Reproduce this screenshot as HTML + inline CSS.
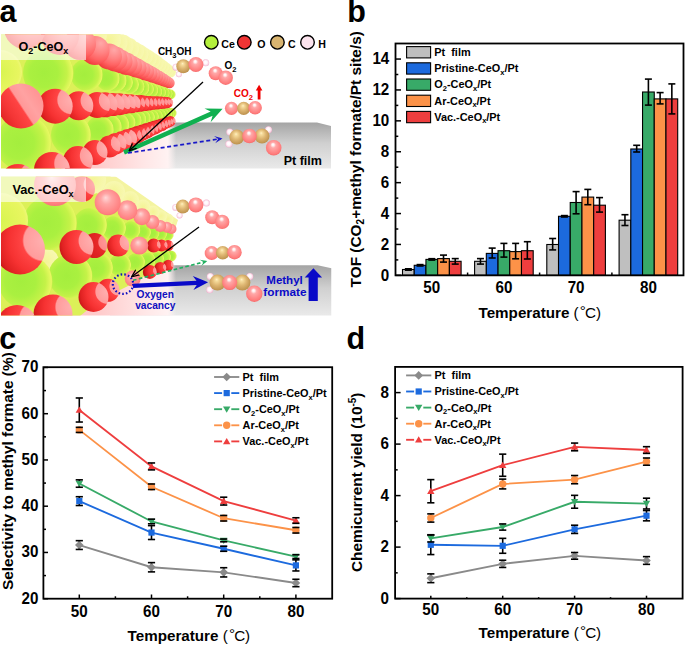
<!DOCTYPE html><html><head><meta charset="utf-8"><style>html,body{margin:0;padding:0;background:#fff;width:685px;height:645px;overflow:hidden}svg{display:block}text{font-family:"Liberation Sans",sans-serif}.sb{font-size:7.5px}.sb2{font-size:10px}</style></head><body>
<svg width="685" height="645" viewBox="0 0 685 645">
<rect width="685" height="645" fill="#fff"/>
<defs>
<radialGradient id="gR" cx="0.97" cy="0.32" r="1.15" fx="0.97" fy="0.32">
 <stop offset="0" stop-color="#ffb0b0"/><stop offset="0.34" stop-color="#ff9c9c"/><stop offset="0.37" stop-color="#ff4444"/><stop offset="0.6" stop-color="#f63232"/><stop offset="0.78" stop-color="#e02222"/><stop offset="0.9" stop-color="#c01414"/><stop offset="1" stop-color="#940808"/></radialGradient>
<linearGradient id="gR1" x1="0.1" y1="0.75" x2="0.9" y2="0.22">
 <stop offset="0" stop-color="#e42828"/><stop offset="0.2" stop-color="#f43636"/><stop offset="0.47" stop-color="#ff4444"/><stop offset="0.51" stop-color="#ff9898"/><stop offset="0.7" stop-color="#ffa2a2"/><stop offset="1" stop-color="#ff9494"/></linearGradient>
<radialGradient id="gRf" cx="1.05" cy="0.4" r="1.15" fx="1.05" fy="0.4">
 <stop offset="0" stop-color="#ffa8a8"/><stop offset="0.26" stop-color="#ff9090"/><stop offset="0.3" stop-color="#ff4040"/><stop offset="0.55" stop-color="#f23030"/><stop offset="0.75" stop-color="#d81e1e"/><stop offset="0.9" stop-color="#b41010"/><stop offset="1" stop-color="#900808"/></radialGradient>
<radialGradient id="gT" cx="0.7" cy="0.25" r="0.95" fx="0.7" fy="0.25">
 <stop offset="0" stop-color="#ffa8a8"/><stop offset="0.35" stop-color="#ff8484"/><stop offset="0.6" stop-color="#ff6464"/><stop offset="0.8" stop-color="#f44444"/><stop offset="1" stop-color="#d42626"/></radialGradient>
<radialGradient id="gRd" cx="1.0" cy="0.36" r="1.1" fx="1.0" fy="0.36">
 <stop offset="0" stop-color="#ff9a9a"/><stop offset="0.3" stop-color="#ff8888"/><stop offset="0.34" stop-color="#e82a2a"/><stop offset="0.75" stop-color="#d81e1e"/><stop offset="0.9" stop-color="#b81212"/><stop offset="1" stop-color="#8a0606"/></radialGradient>
<radialGradient id="gP" cx="0.5" cy="0.45" r="0.6" fx="0.45" fy="0.28">
 <stop offset="0" stop-color="#ffffff"/><stop offset="0.12" stop-color="#fff0f0"/><stop offset="0.3" stop-color="#ffa8a8"/><stop offset="0.8" stop-color="#ff7c7c"/><stop offset="1" stop-color="#f06464"/></radialGradient>
<radialGradient id="gPm" cx="0.5" cy="0.45" r="0.6" fx="0.42" fy="0.32">
 <stop offset="0" stop-color="#ffd8d8"/><stop offset="0.35" stop-color="#ffa4a4"/><stop offset="0.85" stop-color="#ff8080"/><stop offset="1" stop-color="#f07070"/></radialGradient>
<radialGradient id="gG" cx="0.4" cy="0.5" r="0.62" fx="0.42" fy="0.5">
 <stop offset="0" stop-color="#a4ee3e"/><stop offset="0.45" stop-color="#aaf040"/><stop offset="0.75" stop-color="#c4f248"/><stop offset="0.93" stop-color="#e6f860"/><stop offset="1" stop-color="#bfe040"/></radialGradient>
<radialGradient id="gGy" cx="0.5" cy="0.5" r="0.55">
 <stop offset="0" stop-color="#d8f450"/><stop offset="0.8" stop-color="#e8f660"/><stop offset="1" stop-color="#f2f888"/></radialGradient>
<radialGradient id="gY" cx="0.5" cy="0.5" r="0.55">
 <stop offset="0" stop-color="#f4f496"/><stop offset="1" stop-color="#f8f8b4"/></radialGradient>
<radialGradient id="gC" cx="0.45" cy="0.45" r="0.6" fx="0.45" fy="0.3">
 <stop offset="0" stop-color="#fff0c8"/><stop offset="0.15" stop-color="#f6dc9c"/><stop offset="0.5" stop-color="#deb672"/><stop offset="1" stop-color="#b88c48"/></radialGradient>
<radialGradient id="gH" cx="0.5" cy="0.5" r="0.55" fx="0.45" fy="0.4">
 <stop offset="0" stop-color="#ffffff"/><stop offset="0.45" stop-color="#fff6fa"/><stop offset="0.8" stop-color="#f8cce0"/><stop offset="1" stop-color="#eca8c4"/></radialGradient>
<linearGradient id="gSlab" x1="0" y1="0" x2="0" y2="1">
 <stop offset="0" stop-color="#a4a4a4"/><stop offset="0.45" stop-color="#d0d0d0"/><stop offset="1" stop-color="#eaeaea"/></linearGradient>
<linearGradient id="gPinkGlow" x1="0" y1="0" x2="1" y2="0">
 <stop offset="0" stop-color="#ffc4c4"/><stop offset="0.35" stop-color="#ffcccc"/><stop offset="0.72" stop-color="#ffe6e6"/><stop offset="0.93" stop-color="#fff2f2"/><stop offset="1" stop-color="#fff4f4" stop-opacity="0"/></linearGradient>
<clipPath id="cpTop"><rect x="1" y="34.6" width="330" height="134"/></clipPath>
<clipPath id="cpBot"><rect x="1" y="176.8" width="330.5" height="138.6"/></clipPath>
<marker id="ahK" markerWidth="8" markerHeight="8" refX="7" refY="4" orient="auto" markerUnits="userSpaceOnUse"><path d="M0,0.8 L7.5,4 L0,7.2" fill="none" stroke="#000" stroke-width="1.3"/></marker>
</defs>
<text x="-0.40" y="22.00" font-size="30.5" text-anchor="start" font-weight="bold" fill="#000" >a</text>
<g clip-path="url(#cpTop)">
<path d="M110,122.4 L317,122.4 L331,126 L331,169 L110,169Z" fill="url(#gSlab)"/>
<rect x="60" y="121" width="116" height="48" fill="url(#gPinkGlow)"/>
<path d="M1,34 L120,34 L168,78 L168,118 L120,146 L90,160 L60,169 L1,169Z" fill="#dcf058"/>
<path d="M75,34 L115,34 L170,70 L172,84 L100,52 Z" fill="#f4f4a0"/>
<circle cx="170.5" cy="72.0" r="5.5" fill="url(#gY)"/>
<circle cx="168.0" cy="70.2" r="6.0" fill="url(#gY)"/>
<circle cx="165.5" cy="68.5" r="6.2" fill="url(#gY)"/>
<circle cx="162.5" cy="66.8" r="6.7" fill="url(#gY)"/>
<circle cx="159.5" cy="65.0" r="7.0" fill="url(#gY)"/>
<circle cx="156.0" cy="63.0" r="7.7" fill="url(#gY)"/>
<circle cx="152.5" cy="61.0" r="8.0" fill="url(#gY)"/>
<circle cx="148.2" cy="58.8" r="8.7" fill="url(#gY)"/>
<circle cx="144.0" cy="56.5" r="9.0" fill="url(#gY)"/>
<circle cx="139.0" cy="54.0" r="9.7" fill="url(#gY)"/>
<circle cx="134.0" cy="51.5" r="10.0" fill="url(#gY)"/>
<circle cx="128.0" cy="48.8" r="11.0" fill="url(#gY)"/>
<circle cx="122.0" cy="46.0" r="11.5" fill="url(#gY)"/>
<circle cx="115.0" cy="43.0" r="12.5" fill="url(#gY)"/>
<circle cx="108.0" cy="40.0" r="13.0" fill="url(#gY)"/>
<circle cx="92.0" cy="34.0" r="15.0" fill="url(#gY)"/>
<circle cx="60.0" cy="22.0" r="22.0" fill="url(#gY)"/>
<circle cx="170.5" cy="94.5" r="5.0" fill="url(#gG)"/>
<circle cx="171.5" cy="113.0" r="5.0" fill="url(#gG)"/>
<circle cx="167.3" cy="93.8" r="5.4" fill="url(#gG)"/>
<circle cx="169.2" cy="113.5" r="5.4" fill="url(#gG)"/>
<circle cx="164.2" cy="93.0" r="5.5" fill="url(#gG)"/>
<circle cx="166.8" cy="114.0" r="5.5" fill="url(#gG)"/>
<circle cx="160.2" cy="92.3" r="5.9" fill="url(#gG)"/>
<circle cx="163.6" cy="114.7" r="5.9" fill="url(#gG)"/>
<circle cx="156.3" cy="91.7" r="6.0" fill="url(#gG)"/>
<circle cx="160.3" cy="115.4" r="6.0" fill="url(#gG)"/>
<circle cx="156.4" cy="116.1" r="6.4" fill="url(#gG)"/>
<circle cx="152.4" cy="116.7" r="6.5" fill="url(#gG)"/>
<circle cx="151.7" cy="90.3" r="6.6" fill="url(#gG)"/>
<circle cx="147.0" cy="89.0" r="7.0" fill="url(#gG)"/>
<circle cx="147.8" cy="117.3" r="7.1" fill="url(#gG)"/>
<circle cx="143.2" cy="118.0" r="7.5" fill="url(#gG)"/>
<circle cx="141.8" cy="87.8" r="7.7" fill="url(#gG)"/>
<circle cx="136.6" cy="86.5" r="8.0" fill="url(#gG)"/>
<circle cx="137.9" cy="119.3" r="8.4" fill="url(#gG)"/>
<circle cx="130.1" cy="84.5" r="8.9" fill="url(#gG)"/>
<circle cx="132.7" cy="120.6" r="9.0" fill="url(#gG)"/>
<circle cx="123.5" cy="82.5" r="9.5" fill="url(#gG)"/>
<circle cx="125.4" cy="122.6" r="10.2" fill="url(#gG)"/>
<circle cx="115.6" cy="80.5" r="11.0" fill="url(#gG)"/>
<circle cx="118.2" cy="124.6" r="11.0" fill="url(#gG)"/>
<circle cx="107.7" cy="78.6" r="12.0" fill="url(#gG)"/>
<circle cx="109.0" cy="127.3" r="12.8" fill="url(#gG)"/>
<circle cx="99.8" cy="130.0" r="14.0" fill="url(#gG)"/>
<circle cx="86.7" cy="74.7" r="16.0" fill="url(#gG)"/>
<circle cx="71.0" cy="135.0" r="20.0" fill="url(#gG)"/>
<circle cx="0.0" cy="72.0" r="22.0" fill="url(#gGy)"/>
<circle cx="48.3" cy="73.0" r="25.3" fill="url(#gG)"/>
<circle cx="23.6" cy="143.0" r="28.0" fill="url(#gG)"/>
<circle cx="169.5" cy="83.0" r="5.2" fill="url(#gT)"/>
<circle cx="170.5" cy="121.3" r="5.2" fill="url(#gRf)"/>
<circle cx="167.5" cy="102.6" r="5.6" fill="url(#gRf)"/>
<circle cx="167.8" cy="82.1" r="5.6" fill="url(#gT)"/>
<circle cx="167.8" cy="122.4" r="5.6" fill="url(#gRf)"/>
<circle cx="166.0" cy="81.2" r="5.8" fill="url(#gT)"/>
<circle cx="165.0" cy="123.5" r="5.8" fill="url(#gRf)"/>
<circle cx="164.5" cy="102.7" r="6.0" fill="url(#gRf)"/>
<circle cx="161.5" cy="102.8" r="6.2" fill="url(#gRf)"/>
<circle cx="163.8" cy="80.1" r="6.3" fill="url(#gT)"/>
<circle cx="161.8" cy="124.8" r="6.3" fill="url(#gRf)"/>
<circle cx="161.5" cy="79.0" r="6.5" fill="url(#gT)"/>
<circle cx="158.5" cy="126.0" r="6.5" fill="url(#gRf)"/>
<circle cx="157.9" cy="102.9" r="6.6" fill="url(#gRf)"/>
<circle cx="154.3" cy="103.0" r="6.8" fill="url(#gRf)"/>
<circle cx="158.8" cy="77.8" r="7.0" fill="url(#gT)"/>
<circle cx="154.8" cy="127.5" r="7.0" fill="url(#gRf)"/>
<circle cx="156.0" cy="76.5" r="7.2" fill="url(#gT)"/>
<circle cx="151.0" cy="129.0" r="7.2" fill="url(#gRf)"/>
<circle cx="150.2" cy="103.2" r="7.3" fill="url(#gRf)"/>
<circle cx="146.0" cy="103.3" r="7.6" fill="url(#gRf)"/>
<circle cx="152.8" cy="75.0" r="7.8" fill="url(#gT)"/>
<circle cx="146.8" cy="130.8" r="7.8" fill="url(#gRf)"/>
<circle cx="149.5" cy="73.5" r="8.0" fill="url(#gT)"/>
<circle cx="142.5" cy="132.5" r="8.0" fill="url(#gRf)"/>
<circle cx="141.3" cy="103.4" r="8.3" fill="url(#gRf)"/>
<circle cx="145.5" cy="71.8" r="8.7" fill="url(#gT)"/>
<circle cx="137.8" cy="134.5" r="8.7" fill="url(#gRf)"/>
<circle cx="136.6" cy="103.6" r="8.7" fill="url(#gRf)"/>
<circle cx="141.5" cy="70.0" r="9.0" fill="url(#gT)"/>
<circle cx="133.0" cy="136.5" r="9.0" fill="url(#gRf)"/>
<circle cx="131.3" cy="103.8" r="9.5" fill="url(#gR)"/>
<circle cx="127.5" cy="138.8" r="9.7" fill="url(#gR)"/>
<circle cx="136.8" cy="68.0" r="9.8" fill="url(#gT)"/>
<circle cx="126.0" cy="104.0" r="10.0" fill="url(#gR)"/>
<circle cx="122.0" cy="141.0" r="10.0" fill="url(#gR)"/>
<circle cx="132.0" cy="66.0" r="10.2" fill="url(#gT)"/>
<circle cx="115.8" cy="143.8" r="10.7" fill="url(#gR)"/>
<circle cx="119.5" cy="104.2" r="11.0" fill="url(#gR)"/>
<circle cx="109.5" cy="146.5" r="11.0" fill="url(#gR)"/>
<circle cx="126.5" cy="63.8" r="11.1" fill="url(#gT)"/>
<circle cx="121.0" cy="61.5" r="11.5" fill="url(#gT)"/>
<circle cx="113.0" cy="104.5" r="11.5" fill="url(#gR)"/>
<circle cx="115.0" cy="59.0" r="12.5" fill="url(#gT)"/>
<circle cx="105.1" cy="104.8" r="12.5" fill="url(#gR)"/>
<circle cx="95.0" cy="152.5" r="12.5" fill="url(#gR)"/>
<circle cx="109.0" cy="56.5" r="13.0" fill="url(#gT)"/>
<circle cx="97.2" cy="105.0" r="13.0" fill="url(#gR)"/>
<circle cx="95.0" cy="50.5" r="14.5" fill="url(#gT)"/>
<circle cx="78.8" cy="105.8" r="14.5" fill="url(#gR)"/>
<circle cx="78.0" cy="161.0" r="15.0" fill="url(#gR)"/>
<circle cx="80.0" cy="44.0" r="16.0" fill="url(#gT)"/>
<circle cx="55.2" cy="106.2" r="17.5" fill="url(#gR)"/>
<circle cx="18.0" cy="182.0" r="18.0" fill="url(#gR)"/>
<circle cx="52.0" cy="170.0" r="18.0" fill="url(#gR)"/>
<circle cx="60.0" cy="36.0" r="19.0" fill="url(#gT)"/>
<circle cx="25.0" cy="28.0" r="21.0" fill="url(#gT)"/>
<circle cx="21.0" cy="106.0" r="22.5" fill="url(#gR1)"/>
</g>
<rect x="1" y="34.6" width="85" height="25.4" fill="#fff" fill-opacity="0.6"/>
<text x="18.4" y="51.4" font-size="12.6" font-weight="bold">O<tspan font-size="9" dy="3">2</tspan><tspan dy="-3">-CeO</tspan><tspan font-size="9" dy="3">x</tspan></text>
<g clip-path="url(#cpBot)">
<path d="M110,265.2 L317.6,265.2 L331.5,268.3 L331.5,316 L110,316Z" fill="url(#gSlab)"/>
<rect x="60" y="264" width="116" height="52" fill="url(#gPinkGlow)"/>
<path d="M1,176 L110,176 L168,220 L168,262 L130,285 L100,300 L80,316 L1,316Z" fill="#dcf058"/>
<path d="M80,176 L115,176 L178,220 L174,232 L100,196 Z" fill="#f4f4a0"/>
<circle cx="168.0" cy="219.0" r="5.5" fill="url(#gY)"/>
<circle cx="161.0" cy="216.0" r="6.0" fill="url(#gY)"/>
<circle cx="153.0" cy="212.0" r="6.5" fill="url(#gY)"/>
<circle cx="143.0" cy="207.0" r="7.5" fill="url(#gY)"/>
<circle cx="130.0" cy="200.0" r="9.0" fill="url(#gY)"/>
<circle cx="114.0" cy="192.0" r="11.0" fill="url(#gY)"/>
<circle cx="45.0" cy="262.0" r="14.0" fill="url(#gY)"/>
<circle cx="92.0" cy="180.0" r="14.0" fill="url(#gY)"/>
<circle cx="168.0" cy="235.0" r="5.5" fill="url(#gG)"/>
<circle cx="171.0" cy="256.0" r="5.5" fill="url(#gG)"/>
<circle cx="161.0" cy="234.0" r="6.0" fill="url(#gG)"/>
<circle cx="165.0" cy="257.0" r="6.0" fill="url(#gG)"/>
<circle cx="153.0" cy="233.0" r="6.5" fill="url(#gG)"/>
<circle cx="157.5" cy="258.5" r="6.5" fill="url(#gG)"/>
<circle cx="143.5" cy="232.0" r="7.5" fill="url(#gG)"/>
<circle cx="148.0" cy="260.0" r="7.5" fill="url(#gG)"/>
<circle cx="131.4" cy="230.0" r="9.0" fill="url(#gG)"/>
<circle cx="136.0" cy="262.0" r="9.0" fill="url(#gG)"/>
<circle cx="120.0" cy="265.0" r="11.0" fill="url(#gG)"/>
<circle cx="114.0" cy="228.0" r="12.0" fill="url(#gG)"/>
<circle cx="98.0" cy="268.0" r="15.0" fill="url(#gG)"/>
<circle cx="90.0" cy="225.0" r="17.0" fill="url(#gG)"/>
<circle cx="70.4" cy="276.0" r="22.0" fill="url(#gG)"/>
<circle cx="50.0" cy="223.0" r="27.0" fill="url(#gG)"/>
<circle cx="25.5" cy="281.6" r="27.0" fill="url(#gG)"/>
<circle cx="0.0" cy="221.0" r="28.0" fill="url(#gGy)"/>
<circle cx="171.5" cy="229.0" r="5.0" fill="url(#gPm)"/>
<circle cx="166.8" cy="227.2" r="5.5" fill="url(#gPm)"/>
<circle cx="168.2" cy="245.6" r="5.5" fill="url(#gRf)"/>
<circle cx="168.2" cy="265.3" r="5.5" fill="url(#gRf)"/>
<circle cx="160.3" cy="226.0" r="6.0" fill="url(#gPm)"/>
<circle cx="161.6" cy="245.6" r="6.0" fill="url(#gRf)"/>
<circle cx="160.3" cy="268.0" r="6.0" fill="url(#gRf)"/>
<circle cx="152.4" cy="222.0" r="7.0" fill="url(#gPm)"/>
<circle cx="153.7" cy="245.6" r="7.0" fill="url(#gRf)"/>
<circle cx="149.8" cy="271.9" r="7.0" fill="url(#gRf)"/>
<circle cx="132.7" cy="278.5" r="8.0" fill="url(#gPm)"/>
<circle cx="141.9" cy="216.7" r="8.5" fill="url(#gPm)"/>
<circle cx="139.3" cy="245.6" r="9.0" fill="url(#gPm)"/>
<circle cx="127.4" cy="210.2" r="10.0" fill="url(#gPm)"/>
<circle cx="118.2" cy="245.6" r="11.0" fill="url(#gR)"/>
<circle cx="108.0" cy="290.3" r="11.5" fill="url(#gR)"/>
<circle cx="94.6" cy="245.6" r="12.5" fill="url(#gRd)"/>
<circle cx="82.0" cy="189.0" r="13.0" fill="url(#gR)"/>
<circle cx="107.7" cy="202.3" r="13.0" fill="url(#gPm)"/>
<circle cx="93.5" cy="297.0" r="15.0" fill="url(#gR)"/>
<circle cx="76.5" cy="247.0" r="17.0" fill="url(#gR)"/>
<circle cx="53.0" cy="314.0" r="19.5" fill="url(#gR)"/>
<circle cx="17.0" cy="325.0" r="20.0" fill="url(#gR)"/>
<circle cx="55.0" cy="185.0" r="21.0" fill="url(#gPm)"/>
<circle cx="20.0" cy="249.5" r="25.0" fill="url(#gR)"/>
</g>
<rect x="1" y="176.8" width="85" height="25.2" fill="#fff" fill-opacity="0.6"/>
<text x="12.4" y="194" font-size="12.8" font-weight="bold">Vac.-CeO<tspan font-size="9" dy="3">x</tspan></text>
<circle cx="211.3" cy="42.3" r="6.8" fill="#b4f03c" stroke="#000" stroke-width="1.4"/>
<text x="221.30" y="47.70" font-size="10.6" text-anchor="start" font-weight="bold" fill="#000" >Ce</text>
<circle cx="244.3" cy="42.3" r="6.8" fill="#f03434" stroke="#000" stroke-width="1.4"/>
<text x="257.20" y="47.70" font-size="10.6" text-anchor="start" font-weight="bold" fill="#000" >O</text>
<circle cx="277.4" cy="42.3" r="6.8" fill="#d8b470" stroke="#000" stroke-width="1.4"/>
<text x="288.10" y="47.70" font-size="10.6" text-anchor="start" font-weight="bold" fill="#000" >C</text>
<circle cx="307.5" cy="42.3" r="6.8" fill="#fce4ee" stroke="#000" stroke-width="1.4"/>
<text x="318.30" y="47.70" font-size="10.6" text-anchor="start" font-weight="bold" fill="#000" >H</text>
<text x="157.9" y="55" font-size="10" font-weight="bold">CH<tspan font-size="7.5" dy="2.5">3</tspan><tspan dy="-2.5">OH</tspan></text>
<circle cx="176.0" cy="67.2" r="3.5" fill="url(#gH)"/>
<circle cx="178.9" cy="74.2" r="3.0" fill="url(#gH)"/>
<circle cx="183.3" cy="66.3" r="7.0" fill="url(#gC)"/>
<circle cx="205.7" cy="62.8" r="3.5" fill="url(#gH)"/>
<circle cx="195.9" cy="64.5" r="7.5" fill="url(#gP)"/>
<text x="224.5" y="69" font-size="10" font-weight="bold">O<tspan font-size="7.5" dy="2.5">2</tspan></text>
<circle cx="215.7" cy="73.3" r="7.0" fill="url(#gP)"/>
<circle cx="225.7" cy="77.7" r="7.2" fill="url(#gP)"/>
<text x="233.7" y="97" font-size="10" font-weight="bold" fill="#f00000">CO<tspan font-size="7.5" dy="2.5">2</tspan></text>
<path d="M257.7,99.6 L257.7,90.4 L255.8,90.4 L259.1,84.7 L262.4,90.4 L260.5,90.4 L260.5,99.6Z" fill="#f00000"/>
<circle cx="231.5" cy="108.3" r="6.6" fill="url(#gP)"/>
<circle cx="243.7" cy="108.3" r="6.6" fill="url(#gC)"/>
<circle cx="255.1" cy="107.7" r="6.8" fill="url(#gP)"/>
<circle cx="229.8" cy="132.1" r="3.5" fill="url(#gH)"/>
<circle cx="228.9" cy="144.0" r="3.5" fill="url(#gH)"/>
<circle cx="268.5" cy="129.7" r="3.5" fill="url(#gH)"/>
<circle cx="236.8" cy="137.0" r="7.5" fill="url(#gC)"/>
<circle cx="262.0" cy="136.0" r="7.5" fill="url(#gC)"/>
<circle cx="249.5" cy="136.0" r="7.3" fill="url(#gP)"/>
<circle cx="273.7" cy="147.8" r="7.8" fill="url(#gP)"/>
<path d="M124.9,154.6 L212.6,115.8 L210.6,122.3 L222.6,108.8 L204.5,108.6 L210.7,111.6 L123.1,150.4Z" fill="#10b050"/>
<line x1="128.0" y1="153.0" x2="220.5" y2="138.7" stroke="#1818c8" stroke-width="1.7" stroke-dasharray="4 2.6"/>
<path d="M222.5,138.4 L215.2,143.3 L218.2,139.1 L214.0,135.9Z" fill="#1818c8"/>
<line x1="203" y1="82" x2="129.5" y2="150.5" stroke="#000" stroke-width="1.3" marker-end="url(#ahK)"/>
<text x="283.70" y="164.60" font-size="12.5" text-anchor="start" font-weight="bold" fill="#000" >Pt film</text>
<circle cx="175.8" cy="207.5" r="3.5" fill="url(#gH)"/>
<circle cx="179.6" cy="215.4" r="3.0" fill="url(#gH)"/>
<circle cx="182.8" cy="206.6" r="7.0" fill="url(#gC)"/>
<circle cx="206.4" cy="203.1" r="3.5" fill="url(#gH)"/>
<circle cx="195.9" cy="204.9" r="7.5" fill="url(#gP)"/>
<circle cx="212.2" cy="217.2" r="7.0" fill="url(#gP)"/>
<circle cx="222.2" cy="221.9" r="7.2" fill="url(#gP)"/>
<circle cx="211.7" cy="253.1" r="7.0" fill="url(#gP)"/>
<circle cx="222.7" cy="252.7" r="6.8" fill="url(#gC)"/>
<circle cx="234.5" cy="252.2" r="7.2" fill="url(#gP)"/>
<circle cx="210.3" cy="276.5" r="3.5" fill="url(#gH)"/>
<circle cx="209.7" cy="289.7" r="3.5" fill="url(#gH)"/>
<circle cx="249.8" cy="276.5" r="3.5" fill="url(#gH)"/>
<circle cx="217.5" cy="282.6" r="8.0" fill="url(#gC)"/>
<circle cx="242.4" cy="282.6" r="8.0" fill="url(#gC)"/>
<circle cx="229.7" cy="282.6" r="7.5" fill="url(#gP)"/>
<circle cx="254.3" cy="293.8" r="8.2" fill="url(#gP)"/>
<ellipse cx="123" cy="284.1" rx="10.2" ry="9.8" fill="none" stroke="#1010c0" stroke-width="2.2" stroke-dasharray="1.6 2.1"/>
<line x1="133.0" y1="280.3" x2="205.4" y2="261.6" stroke="#20b060" stroke-width="1.6" stroke-dasharray="3.6 2.4"/>
<path d="M207.3,261.1 L201.3,266.0 L203.6,262.1 L199.7,259.7Z" fill="#20b060"/>
<path d="M133.1,287.9 L196.7,284.9 L193.4,290.0 L208.1,282.3 L192.8,276.0 L196.5,280.7 L132.9,283.7Z" fill="#0a0ac8"/>
<line x1="199" y1="227" x2="132" y2="276.5" stroke="#000" stroke-width="1.3" marker-end="url(#ahK)"/>
<text x="136.6" y="297.6" font-size="10.2" font-weight="bold" fill="#1010c0">Oxygen</text>
<text x="135.2" y="309.4" font-size="10.2" font-weight="bold" fill="#1010c0">vacancy</text>
<text x="266.3" y="283.6" font-size="11.5" font-weight="bold" fill="#0a0ac8">Methyl</text>
<text x="263.3" y="295.5" font-size="11.8" font-weight="bold" fill="#0a0ac8">formate</text>
<path d="M308.6,301 L308.6,277.5 L304.7,277.5 L313.4,268.3 L322.1,277.5 L317.8,277.5 L317.8,301Z" fill="#0a0ac8"/>
<rect x="402.50" y="269.50" width="11.72" height="5.85" fill="#bfbfbf" stroke="#000" stroke-width="1.1"/>
<rect x="414.22" y="265.30" width="11.72" height="10.05" fill="#1c6ade" stroke="#000" stroke-width="1.1"/>
<rect x="425.94" y="259.40" width="11.72" height="15.95" fill="#38aa68" stroke="#000" stroke-width="1.1"/>
<rect x="437.66" y="258.60" width="11.72" height="16.75" fill="#fc9248" stroke="#000" stroke-width="1.1"/>
<rect x="449.38" y="261.30" width="11.72" height="14.05" fill="#ee3e3e" stroke="#000" stroke-width="1.1"/>
<rect x="474.60" y="261.30" width="11.72" height="14.05" fill="#bfbfbf" stroke="#000" stroke-width="1.1"/>
<rect x="486.32" y="253.40" width="11.72" height="21.95" fill="#1c6ade" stroke="#000" stroke-width="1.1"/>
<rect x="498.04" y="250.70" width="11.72" height="24.65" fill="#38aa68" stroke="#000" stroke-width="1.1"/>
<rect x="509.76" y="251.60" width="11.72" height="23.75" fill="#fc9248" stroke="#000" stroke-width="1.1"/>
<rect x="521.48" y="250.70" width="11.72" height="24.65" fill="#ee3e3e" stroke="#000" stroke-width="1.1"/>
<rect x="546.80" y="244.50" width="11.72" height="30.85" fill="#bfbfbf" stroke="#000" stroke-width="1.1"/>
<rect x="558.52" y="216.30" width="11.72" height="59.05" fill="#1c6ade" stroke="#000" stroke-width="1.1"/>
<rect x="570.24" y="202.50" width="11.72" height="72.85" fill="#38aa68" stroke="#000" stroke-width="1.1"/>
<rect x="581.96" y="197.10" width="11.72" height="78.25" fill="#fc9248" stroke="#000" stroke-width="1.1"/>
<rect x="593.68" y="205.20" width="11.72" height="70.15" fill="#ee3e3e" stroke="#000" stroke-width="1.1"/>
<rect x="619.10" y="220.20" width="11.72" height="55.15" fill="#bfbfbf" stroke="#000" stroke-width="1.1"/>
<rect x="630.82" y="149.00" width="11.72" height="126.35" fill="#1c6ade" stroke="#000" stroke-width="1.1"/>
<rect x="642.54" y="92.00" width="11.72" height="183.35" fill="#38aa68" stroke="#000" stroke-width="1.1"/>
<rect x="654.26" y="98.90" width="11.72" height="176.45" fill="#fc9248" stroke="#000" stroke-width="1.1"/>
<rect x="665.98" y="98.90" width="11.72" height="176.45" fill="#ee3e3e" stroke="#000" stroke-width="1.1"/>
<line x1="408.36" y1="268.80" x2="408.36" y2="270.20" stroke="#000" stroke-width="1.6" />
<line x1="404.86" y1="268.80" x2="411.86" y2="268.80" stroke="#000" stroke-width="1.6" />
<line x1="404.86" y1="270.20" x2="411.86" y2="270.20" stroke="#000" stroke-width="1.6" />
<line x1="420.08" y1="264.60" x2="420.08" y2="266.00" stroke="#000" stroke-width="1.6" />
<line x1="416.58" y1="264.60" x2="423.58" y2="264.60" stroke="#000" stroke-width="1.6" />
<line x1="416.58" y1="266.00" x2="423.58" y2="266.00" stroke="#000" stroke-width="1.6" />
<line x1="431.80" y1="258.70" x2="431.80" y2="260.10" stroke="#000" stroke-width="1.6" />
<line x1="428.30" y1="258.70" x2="435.30" y2="258.70" stroke="#000" stroke-width="1.6" />
<line x1="428.30" y1="260.10" x2="435.30" y2="260.10" stroke="#000" stroke-width="1.6" />
<line x1="443.52" y1="255.10" x2="443.52" y2="262.10" stroke="#000" stroke-width="1.6" />
<line x1="440.02" y1="255.10" x2="447.02" y2="255.10" stroke="#000" stroke-width="1.6" />
<line x1="440.02" y1="262.10" x2="447.02" y2="262.10" stroke="#000" stroke-width="1.6" />
<line x1="455.24" y1="258.60" x2="455.24" y2="264.10" stroke="#000" stroke-width="1.6" />
<line x1="451.74" y1="258.60" x2="458.74" y2="258.60" stroke="#000" stroke-width="1.6" />
<line x1="451.74" y1="264.10" x2="458.74" y2="264.10" stroke="#000" stroke-width="1.6" />
<line x1="480.46" y1="258.60" x2="480.46" y2="264.10" stroke="#000" stroke-width="1.6" />
<line x1="476.96" y1="258.60" x2="483.96" y2="258.60" stroke="#000" stroke-width="1.6" />
<line x1="476.96" y1="264.10" x2="483.96" y2="264.10" stroke="#000" stroke-width="1.6" />
<line x1="492.18" y1="248.10" x2="492.18" y2="258.00" stroke="#000" stroke-width="1.6" />
<line x1="488.68" y1="248.10" x2="495.68" y2="248.10" stroke="#000" stroke-width="1.6" />
<line x1="488.68" y1="258.00" x2="495.68" y2="258.00" stroke="#000" stroke-width="1.6" />
<line x1="503.90" y1="243.40" x2="503.90" y2="257.10" stroke="#000" stroke-width="1.6" />
<line x1="500.40" y1="243.40" x2="507.40" y2="243.40" stroke="#000" stroke-width="1.6" />
<line x1="500.40" y1="257.10" x2="507.40" y2="257.10" stroke="#000" stroke-width="1.6" />
<line x1="515.62" y1="243.40" x2="515.62" y2="258.80" stroke="#000" stroke-width="1.6" />
<line x1="512.12" y1="243.40" x2="519.12" y2="243.40" stroke="#000" stroke-width="1.6" />
<line x1="512.12" y1="258.80" x2="519.12" y2="258.80" stroke="#000" stroke-width="1.6" />
<line x1="527.34" y1="241.70" x2="527.34" y2="259.00" stroke="#000" stroke-width="1.6" />
<line x1="523.84" y1="241.70" x2="530.84" y2="241.70" stroke="#000" stroke-width="1.6" />
<line x1="523.84" y1="259.00" x2="530.84" y2="259.00" stroke="#000" stroke-width="1.6" />
<line x1="552.66" y1="238.50" x2="552.66" y2="249.90" stroke="#000" stroke-width="1.6" />
<line x1="549.16" y1="238.50" x2="556.16" y2="238.50" stroke="#000" stroke-width="1.6" />
<line x1="549.16" y1="249.90" x2="556.16" y2="249.90" stroke="#000" stroke-width="1.6" />
<line x1="564.38" y1="215.60" x2="564.38" y2="217.00" stroke="#000" stroke-width="1.6" />
<line x1="560.88" y1="215.60" x2="567.88" y2="215.60" stroke="#000" stroke-width="1.6" />
<line x1="560.88" y1="217.00" x2="567.88" y2="217.00" stroke="#000" stroke-width="1.6" />
<line x1="576.10" y1="191.60" x2="576.10" y2="213.80" stroke="#000" stroke-width="1.6" />
<line x1="572.60" y1="191.60" x2="579.60" y2="191.60" stroke="#000" stroke-width="1.6" />
<line x1="572.60" y1="213.80" x2="579.60" y2="213.80" stroke="#000" stroke-width="1.6" />
<line x1="587.82" y1="189.40" x2="587.82" y2="204.70" stroke="#000" stroke-width="1.6" />
<line x1="584.32" y1="189.40" x2="591.32" y2="189.40" stroke="#000" stroke-width="1.6" />
<line x1="584.32" y1="204.70" x2="591.32" y2="204.70" stroke="#000" stroke-width="1.6" />
<line x1="599.54" y1="197.60" x2="599.54" y2="212.10" stroke="#000" stroke-width="1.6" />
<line x1="596.04" y1="197.60" x2="603.04" y2="197.60" stroke="#000" stroke-width="1.6" />
<line x1="596.04" y1="212.10" x2="603.04" y2="212.10" stroke="#000" stroke-width="1.6" />
<line x1="624.96" y1="214.70" x2="624.96" y2="225.50" stroke="#000" stroke-width="1.6" />
<line x1="621.46" y1="214.70" x2="628.46" y2="214.70" stroke="#000" stroke-width="1.6" />
<line x1="621.46" y1="225.50" x2="628.46" y2="225.50" stroke="#000" stroke-width="1.6" />
<line x1="636.68" y1="145.30" x2="636.68" y2="152.00" stroke="#000" stroke-width="1.6" />
<line x1="633.18" y1="145.30" x2="640.18" y2="145.30" stroke="#000" stroke-width="1.6" />
<line x1="633.18" y1="152.00" x2="640.18" y2="152.00" stroke="#000" stroke-width="1.6" />
<line x1="648.40" y1="79.10" x2="648.40" y2="105.10" stroke="#000" stroke-width="1.6" />
<line x1="644.90" y1="79.10" x2="651.90" y2="79.10" stroke="#000" stroke-width="1.6" />
<line x1="644.90" y1="105.10" x2="651.90" y2="105.10" stroke="#000" stroke-width="1.6" />
<line x1="660.12" y1="92.60" x2="660.12" y2="103.90" stroke="#000" stroke-width="1.6" />
<line x1="656.62" y1="92.60" x2="663.62" y2="92.60" stroke="#000" stroke-width="1.6" />
<line x1="656.62" y1="103.90" x2="663.62" y2="103.90" stroke="#000" stroke-width="1.6" />
<line x1="671.84" y1="83.90" x2="671.84" y2="113.90" stroke="#000" stroke-width="1.6" />
<line x1="668.34" y1="83.90" x2="675.34" y2="83.90" stroke="#000" stroke-width="1.6" />
<line x1="668.34" y1="113.90" x2="675.34" y2="113.90" stroke="#000" stroke-width="1.6" />
<line x1="395.50" y1="275.35" x2="401.00" y2="275.35" stroke="#000" stroke-width="1.5" />
<line x1="395.50" y1="259.90" x2="398.30" y2="259.90" stroke="#000" stroke-width="1.5" />
<line x1="395.50" y1="244.45" x2="401.00" y2="244.45" stroke="#000" stroke-width="1.5" />
<line x1="395.50" y1="229.00" x2="398.30" y2="229.00" stroke="#000" stroke-width="1.5" />
<line x1="395.50" y1="213.55" x2="401.00" y2="213.55" stroke="#000" stroke-width="1.5" />
<line x1="395.50" y1="198.10" x2="398.30" y2="198.10" stroke="#000" stroke-width="1.5" />
<line x1="395.50" y1="182.65" x2="401.00" y2="182.65" stroke="#000" stroke-width="1.5" />
<line x1="395.50" y1="167.20" x2="398.30" y2="167.20" stroke="#000" stroke-width="1.5" />
<line x1="395.50" y1="151.75" x2="401.00" y2="151.75" stroke="#000" stroke-width="1.5" />
<line x1="395.50" y1="136.30" x2="398.30" y2="136.30" stroke="#000" stroke-width="1.5" />
<line x1="395.50" y1="120.85" x2="401.00" y2="120.85" stroke="#000" stroke-width="1.5" />
<line x1="395.50" y1="105.40" x2="398.30" y2="105.40" stroke="#000" stroke-width="1.5" />
<line x1="395.50" y1="89.95" x2="401.00" y2="89.95" stroke="#000" stroke-width="1.5" />
<line x1="395.50" y1="74.50" x2="398.30" y2="74.50" stroke="#000" stroke-width="1.5" />
<line x1="395.50" y1="59.05" x2="401.00" y2="59.05" stroke="#000" stroke-width="1.5" />
<line x1="467.60" y1="275.35" x2="467.60" y2="272.55" stroke="#000" stroke-width="1.5" />
<line x1="539.60" y1="275.35" x2="539.60" y2="272.55" stroke="#000" stroke-width="1.5" />
<line x1="611.90" y1="275.35" x2="611.90" y2="272.55" stroke="#000" stroke-width="1.5" />
<rect x="395.5" y="43.5" width="288.0" height="231.85000000000002" fill="none" stroke="#000" stroke-width="1.8"/>
<text transform="translate(389.30,280.65) scale(1,1.1)" font-size="15.2" text-anchor="end" font-weight="bold" fill="#000" >0</text>
<text transform="translate(389.30,249.75) scale(1,1.1)" font-size="15.2" text-anchor="end" font-weight="bold" fill="#000" >2</text>
<text transform="translate(389.30,218.85) scale(1,1.1)" font-size="15.2" text-anchor="end" font-weight="bold" fill="#000" >4</text>
<text transform="translate(389.30,187.95) scale(1,1.1)" font-size="15.2" text-anchor="end" font-weight="bold" fill="#000" >6</text>
<text transform="translate(389.30,157.05) scale(1,1.1)" font-size="15.2" text-anchor="end" font-weight="bold" fill="#000" >8</text>
<text transform="translate(389.30,126.15) scale(1,1.1)" font-size="15.2" text-anchor="end" font-weight="bold" fill="#000" >10</text>
<text transform="translate(389.30,95.25) scale(1,1.1)" font-size="15.2" text-anchor="end" font-weight="bold" fill="#000" >12</text>
<text transform="translate(389.30,64.35) scale(1,1.1)" font-size="15.2" text-anchor="end" font-weight="bold" fill="#000" >14</text>
<text transform="translate(431.80,292.60) scale(1,1.1)" font-size="15.2" text-anchor="middle" font-weight="bold" fill="#000" >50</text>
<text transform="translate(503.90,292.60) scale(1,1.1)" font-size="15.2" text-anchor="middle" font-weight="bold" fill="#000" >60</text>
<text transform="translate(576.10,292.60) scale(1,1.1)" font-size="15.2" text-anchor="middle" font-weight="bold" fill="#000" >70</text>
<text transform="translate(648.40,292.60) scale(1,1.1)" font-size="15.2" text-anchor="middle" font-weight="bold" fill="#000" >80</text>
<text x="478.50" y="318.00" font-size="15.2" font-weight="bold">Temperature <tspan font-weight="normal">(</tspan><tspan font-weight="normal" dx="1.2" dy="-2">°</tspan><tspan font-weight="normal" dx="-0.9" dy="2">C)</tspan></text>
<text transform="translate(360.6,287.4) rotate(-90)" font-size="15.4" font-weight="bold">TOF (CO<tspan class="sb2" dy="3">2</tspan><tspan dy="-3">+methyl formate/Pt site/s)</tspan></text>
<rect x="406.6" y="46.60" width="24.0" height="11.3" fill="#bfbfbf" stroke="#000" stroke-width="1.1"/>
<text x="434.30" y="55.90" font-size="10.9" text-anchor="start" font-weight="bold" fill="#000" >Pt&#160; film</text>
<rect x="406.6" y="62.80" width="24.0" height="11.3" fill="#1c6ade" stroke="#000" stroke-width="1.1"/>
<text x="434.30" y="72.10" font-size="10.9" text-anchor="start" font-weight="bold" fill="#000" >Pristine-CeO<tspan class="sb" dy="2.5">x</tspan><tspan dy="-2.5">/Pt</tspan></text>
<rect x="406.6" y="79.00" width="24.0" height="11.3" fill="#38aa68" stroke="#000" stroke-width="1.1"/>
<text x="434.30" y="88.30" font-size="10.9" text-anchor="start" font-weight="bold" fill="#000" >O<tspan class="sb" dy="2.5">2</tspan><tspan dy="-2.5">-CeO</tspan><tspan class="sb" dy="2.5">x</tspan><tspan dy="-2.5">/Pt</tspan></text>
<rect x="406.6" y="95.20" width="24.0" height="11.3" fill="#fc9248" stroke="#000" stroke-width="1.1"/>
<text x="434.30" y="104.50" font-size="10.9" text-anchor="start" font-weight="bold" fill="#000" >Ar-CeO<tspan class="sb" dy="2.5">x</tspan><tspan dy="-2.5">/Pt</tspan></text>
<rect x="406.6" y="111.40" width="24.0" height="11.3" fill="#ee3e3e" stroke="#000" stroke-width="1.1"/>
<text x="434.30" y="120.70" font-size="10.9" text-anchor="start" font-weight="bold" fill="#000" >Vac.-CeO<tspan class="sb" dy="2.5">x</tspan><tspan dy="-2.5">/Pt</tspan></text>
<text x="347.20" y="22.30" font-size="30.5" text-anchor="start" font-weight="bold" fill="#000" >b</text>
<line x1="79.30" y1="540.66" x2="79.30" y2="549.44" stroke="#000" stroke-width="1.6" />
<line x1="151.50" y1="562.62" x2="151.50" y2="571.88" stroke="#000" stroke-width="1.6" />
<line x1="223.70" y1="567.71" x2="223.70" y2="576.96" stroke="#000" stroke-width="1.6" />
<line x1="295.90" y1="579.28" x2="295.90" y2="586.68" stroke="#000" stroke-width="1.6" />
<line x1="79.30" y1="496.72" x2="79.30" y2="505.51" stroke="#000" stroke-width="1.6" />
<line x1="151.50" y1="525.62" x2="151.50" y2="539.50" stroke="#000" stroke-width="1.6" />
<line x1="223.70" y1="546.21" x2="223.70" y2="551.29" stroke="#000" stroke-width="1.6" />
<line x1="295.90" y1="559.85" x2="295.90" y2="570.95" stroke="#000" stroke-width="1.6" />
<line x1="79.30" y1="479.84" x2="79.30" y2="487.24" stroke="#000" stroke-width="1.6" />
<line x1="151.50" y1="519.15" x2="151.50" y2="523.78" stroke="#000" stroke-width="1.6" />
<line x1="223.70" y1="539.04" x2="223.70" y2="541.81" stroke="#000" stroke-width="1.6" />
<line x1="295.90" y1="554.76" x2="295.90" y2="558.46" stroke="#000" stroke-width="1.6" />
<line x1="79.30" y1="427.34" x2="79.30" y2="432.43" stroke="#000" stroke-width="1.6" />
<line x1="151.50" y1="484.00" x2="151.50" y2="489.55" stroke="#000" stroke-width="1.6" />
<line x1="223.70" y1="515.45" x2="223.70" y2="521.00" stroke="#000" stroke-width="1.6" />
<line x1="295.90" y1="527.48" x2="295.90" y2="533.03" stroke="#000" stroke-width="1.6" />
<line x1="79.30" y1="397.98" x2="79.30" y2="422.03" stroke="#000" stroke-width="1.6" />
<line x1="151.50" y1="462.96" x2="151.50" y2="469.89" stroke="#000" stroke-width="1.6" />
<line x1="223.70" y1="497.18" x2="223.70" y2="505.04" stroke="#000" stroke-width="1.6" />
<line x1="295.90" y1="517.76" x2="295.90" y2="523.31" stroke="#000" stroke-width="1.6" />
<path d="M79.30,545.05 L151.50,567.25 L223.70,572.34 L295.90,582.98" fill="none" stroke="#8a8a8a" stroke-width="1.85"/>
<path d="M79.30,501.11 L151.50,532.56 L223.70,548.75 L295.90,565.40" fill="none" stroke="#1c6ade" stroke-width="1.85"/>
<path d="M79.30,483.54 L151.50,521.46 L223.70,540.43 L295.90,556.61" fill="none" stroke="#38aa68" stroke-width="1.85"/>
<path d="M79.30,429.89 L151.50,486.78 L223.70,518.23 L295.90,530.25" fill="none" stroke="#fc9248" stroke-width="1.85"/>
<path d="M79.30,410.00 L151.50,466.43 L223.70,501.11 L295.90,520.54" fill="none" stroke="#ee3e3e" stroke-width="1.85"/>
<path d="M79.30,540.75 L83.60,545.05 L79.30,549.35 L75.00,545.05Z" fill="#8a8a8a"/>
<path d="M151.50,562.95 L155.80,567.25 L151.50,571.55 L147.20,567.25Z" fill="#8a8a8a"/>
<path d="M223.70,568.04 L228.00,572.34 L223.70,576.64 L219.40,572.34Z" fill="#8a8a8a"/>
<path d="M295.90,578.67 L300.20,582.98 L295.90,587.28 L291.60,582.98Z" fill="#8a8a8a"/>
<rect x="76.20" y="498.01" width="6.2" height="6.2" fill="#1c6ade"/>
<rect x="148.40" y="529.46" width="6.2" height="6.2" fill="#1c6ade"/>
<rect x="220.60" y="545.65" width="6.2" height="6.2" fill="#1c6ade"/>
<rect x="292.80" y="562.30" width="6.2" height="6.2" fill="#1c6ade"/>
<path d="M75.60,480.76 L83.00,480.76 L79.30,487.05Z" fill="#38aa68"/>
<path d="M147.80,518.69 L155.20,518.69 L151.50,524.98Z" fill="#38aa68"/>
<path d="M220.00,537.65 L227.40,537.65 L223.70,543.94Z" fill="#38aa68"/>
<path d="M292.20,553.84 L299.60,553.84 L295.90,560.13Z" fill="#38aa68"/>
<circle cx="79.30" cy="429.89" r="3.70" fill="#fc9248"/>
<circle cx="151.50" cy="486.78" r="3.70" fill="#fc9248"/>
<circle cx="223.70" cy="518.23" r="3.70" fill="#fc9248"/>
<circle cx="295.90" cy="530.25" r="3.70" fill="#fc9248"/>
<path d="M75.60,412.78 L83.00,412.78 L79.30,406.49Z" fill="#ee3e3e"/>
<path d="M147.80,469.20 L155.20,469.20 L151.50,462.91Z" fill="#ee3e3e"/>
<path d="M220.00,503.89 L227.40,503.89 L223.70,497.60Z" fill="#ee3e3e"/>
<path d="M292.20,523.31 L299.60,523.31 L295.90,517.02Z" fill="#ee3e3e"/>
<line x1="75.70" y1="540.66" x2="82.90" y2="540.66" stroke="#000" stroke-width="1.6" />
<line x1="75.70" y1="549.44" x2="82.90" y2="549.44" stroke="#000" stroke-width="1.6" />
<line x1="147.90" y1="562.62" x2="155.10" y2="562.62" stroke="#000" stroke-width="1.6" />
<line x1="147.90" y1="571.88" x2="155.10" y2="571.88" stroke="#000" stroke-width="1.6" />
<line x1="220.10" y1="567.71" x2="227.30" y2="567.71" stroke="#000" stroke-width="1.6" />
<line x1="220.10" y1="576.96" x2="227.30" y2="576.96" stroke="#000" stroke-width="1.6" />
<line x1="292.30" y1="579.28" x2="299.50" y2="579.28" stroke="#000" stroke-width="1.6" />
<line x1="292.30" y1="586.68" x2="299.50" y2="586.68" stroke="#000" stroke-width="1.6" />
<line x1="75.70" y1="496.72" x2="82.90" y2="496.72" stroke="#000" stroke-width="1.6" />
<line x1="75.70" y1="505.51" x2="82.90" y2="505.51" stroke="#000" stroke-width="1.6" />
<line x1="147.90" y1="525.62" x2="155.10" y2="525.62" stroke="#000" stroke-width="1.6" />
<line x1="147.90" y1="539.50" x2="155.10" y2="539.50" stroke="#000" stroke-width="1.6" />
<line x1="220.10" y1="546.21" x2="227.30" y2="546.21" stroke="#000" stroke-width="1.6" />
<line x1="220.10" y1="551.29" x2="227.30" y2="551.29" stroke="#000" stroke-width="1.6" />
<line x1="292.30" y1="559.85" x2="299.50" y2="559.85" stroke="#000" stroke-width="1.6" />
<line x1="292.30" y1="570.95" x2="299.50" y2="570.95" stroke="#000" stroke-width="1.6" />
<line x1="75.70" y1="479.84" x2="82.90" y2="479.84" stroke="#000" stroke-width="1.6" />
<line x1="75.70" y1="487.24" x2="82.90" y2="487.24" stroke="#000" stroke-width="1.6" />
<line x1="147.90" y1="519.15" x2="155.10" y2="519.15" stroke="#000" stroke-width="1.6" />
<line x1="147.90" y1="523.78" x2="155.10" y2="523.78" stroke="#000" stroke-width="1.6" />
<line x1="220.10" y1="539.04" x2="227.30" y2="539.04" stroke="#000" stroke-width="1.6" />
<line x1="220.10" y1="541.81" x2="227.30" y2="541.81" stroke="#000" stroke-width="1.6" />
<line x1="292.30" y1="554.76" x2="299.50" y2="554.76" stroke="#000" stroke-width="1.6" />
<line x1="292.30" y1="558.46" x2="299.50" y2="558.46" stroke="#000" stroke-width="1.6" />
<line x1="75.70" y1="427.34" x2="82.90" y2="427.34" stroke="#000" stroke-width="1.6" />
<line x1="75.70" y1="432.43" x2="82.90" y2="432.43" stroke="#000" stroke-width="1.6" />
<line x1="147.90" y1="484.00" x2="155.10" y2="484.00" stroke="#000" stroke-width="1.6" />
<line x1="147.90" y1="489.55" x2="155.10" y2="489.55" stroke="#000" stroke-width="1.6" />
<line x1="220.10" y1="515.45" x2="227.30" y2="515.45" stroke="#000" stroke-width="1.6" />
<line x1="220.10" y1="521.00" x2="227.30" y2="521.00" stroke="#000" stroke-width="1.6" />
<line x1="292.30" y1="527.48" x2="299.50" y2="527.48" stroke="#000" stroke-width="1.6" />
<line x1="292.30" y1="533.03" x2="299.50" y2="533.03" stroke="#000" stroke-width="1.6" />
<line x1="75.70" y1="397.98" x2="82.90" y2="397.98" stroke="#000" stroke-width="1.6" />
<line x1="75.70" y1="422.03" x2="82.90" y2="422.03" stroke="#000" stroke-width="1.6" />
<line x1="147.90" y1="462.96" x2="155.10" y2="462.96" stroke="#000" stroke-width="1.6" />
<line x1="147.90" y1="469.89" x2="155.10" y2="469.89" stroke="#000" stroke-width="1.6" />
<line x1="220.10" y1="497.18" x2="227.30" y2="497.18" stroke="#000" stroke-width="1.6" />
<line x1="220.10" y1="505.04" x2="227.30" y2="505.04" stroke="#000" stroke-width="1.6" />
<line x1="292.30" y1="517.76" x2="299.50" y2="517.76" stroke="#000" stroke-width="1.6" />
<line x1="292.30" y1="523.31" x2="299.50" y2="523.31" stroke="#000" stroke-width="1.6" />
<line x1="43.40" y1="598.70" x2="48.00" y2="598.70" stroke="#000" stroke-width="1.5" />
<line x1="43.40" y1="552.45" x2="48.00" y2="552.45" stroke="#000" stroke-width="1.5" />
<line x1="43.40" y1="506.20" x2="48.00" y2="506.20" stroke="#000" stroke-width="1.5" />
<line x1="43.40" y1="459.95" x2="48.00" y2="459.95" stroke="#000" stroke-width="1.5" />
<line x1="43.40" y1="413.70" x2="48.00" y2="413.70" stroke="#000" stroke-width="1.5" />
<line x1="43.40" y1="367.45" x2="48.00" y2="367.45" stroke="#000" stroke-width="1.5" />
<line x1="43.40" y1="575.58" x2="46.00" y2="575.58" stroke="#000" stroke-width="1.5" />
<line x1="43.40" y1="529.33" x2="46.00" y2="529.33" stroke="#000" stroke-width="1.5" />
<line x1="43.40" y1="483.08" x2="46.00" y2="483.08" stroke="#000" stroke-width="1.5" />
<line x1="43.40" y1="436.83" x2="46.00" y2="436.83" stroke="#000" stroke-width="1.5" />
<line x1="43.40" y1="390.58" x2="46.00" y2="390.58" stroke="#000" stroke-width="1.5" />
<line x1="79.30" y1="598.70" x2="79.30" y2="594.50" stroke="#000" stroke-width="1.5" />
<line x1="151.50" y1="598.70" x2="151.50" y2="594.50" stroke="#000" stroke-width="1.5" />
<line x1="223.70" y1="598.70" x2="223.70" y2="594.50" stroke="#000" stroke-width="1.5" />
<line x1="295.90" y1="598.70" x2="295.90" y2="594.50" stroke="#000" stroke-width="1.5" />
<line x1="115.40" y1="598.70" x2="115.40" y2="596.30" stroke="#000" stroke-width="1.5" />
<line x1="187.60" y1="598.70" x2="187.60" y2="596.30" stroke="#000" stroke-width="1.5" />
<line x1="259.80" y1="598.70" x2="259.80" y2="596.30" stroke="#000" stroke-width="1.5" />
<rect x="43.4" y="367.2" width="288.8" height="231.50000000000006" fill="none" stroke="#000" stroke-width="1.8"/>
<text transform="translate(38.40,603.70) scale(1,1.1)" font-size="15.2" text-anchor="end" font-weight="bold" fill="#000" >20</text>
<text transform="translate(38.40,557.45) scale(1,1.1)" font-size="15.2" text-anchor="end" font-weight="bold" fill="#000" >30</text>
<text transform="translate(38.40,511.20) scale(1,1.1)" font-size="15.2" text-anchor="end" font-weight="bold" fill="#000" >40</text>
<text transform="translate(38.40,464.95) scale(1,1.1)" font-size="15.2" text-anchor="end" font-weight="bold" fill="#000" >50</text>
<text transform="translate(38.40,418.70) scale(1,1.1)" font-size="15.2" text-anchor="end" font-weight="bold" fill="#000" >60</text>
<text transform="translate(38.40,372.45) scale(1,1.1)" font-size="15.2" text-anchor="end" font-weight="bold" fill="#000" >70</text>
<text transform="translate(79.30,617.40) scale(1,1.1)" font-size="15.2" text-anchor="middle" font-weight="bold" fill="#000" >50</text>
<text transform="translate(151.50,617.40) scale(1,1.1)" font-size="15.2" text-anchor="middle" font-weight="bold" fill="#000" >60</text>
<text transform="translate(223.70,617.40) scale(1,1.1)" font-size="15.2" text-anchor="middle" font-weight="bold" fill="#000" >70</text>
<text transform="translate(295.90,617.40) scale(1,1.1)" font-size="15.2" text-anchor="middle" font-weight="bold" fill="#000" >80</text>
<line x1="214.10" y1="377.00" x2="239.30" y2="377.00" stroke="#8a8a8a" stroke-width="1.85" />
<path d="M226.70,372.70 L231.00,377.00 L226.70,381.30 L222.40,377.00Z" fill="#8a8a8a"/>
<text x="242.60" y="380.90" font-size="10.9" text-anchor="start" font-weight="bold" fill="#000" >Pt&#160; film</text>
<line x1="214.10" y1="393.10" x2="222.10" y2="393.10" stroke="#1c6ade" stroke-width="1.85" />
<line x1="231.30" y1="393.10" x2="239.30" y2="393.10" stroke="#1c6ade" stroke-width="1.85" />
<rect x="223.60" y="390.00" width="6.2" height="6.2" fill="#1c6ade"/>
<text x="242.60" y="397.00" font-size="10.9" text-anchor="start" font-weight="bold" fill="#000" >Pristine-CeO<tspan class="sb" dy="2.5">x</tspan><tspan dy="-2.5">/Pt</tspan></text>
<line x1="214.10" y1="409.20" x2="222.10" y2="409.20" stroke="#38aa68" stroke-width="1.85" />
<line x1="231.30" y1="409.20" x2="239.30" y2="409.20" stroke="#38aa68" stroke-width="1.85" />
<path d="M223.00,406.43 L230.40,406.43 L226.70,412.71Z" fill="#38aa68"/>
<text x="242.60" y="413.10" font-size="10.9" text-anchor="start" font-weight="bold" fill="#000" >O<tspan class="sb" dy="2.5">2</tspan><tspan dy="-2.5">-CeO</tspan><tspan class="sb" dy="2.5">x</tspan><tspan dy="-2.5">/Pt</tspan></text>
<line x1="214.10" y1="425.30" x2="222.10" y2="425.30" stroke="#fc9248" stroke-width="1.85" />
<line x1="231.30" y1="425.30" x2="239.30" y2="425.30" stroke="#fc9248" stroke-width="1.85" />
<circle cx="226.70" cy="425.30" r="3.70" fill="#fc9248"/>
<text x="242.60" y="429.20" font-size="10.9" text-anchor="start" font-weight="bold" fill="#000" >Ar-CeO<tspan class="sb" dy="2.5">x</tspan><tspan dy="-2.5">/Pt</tspan></text>
<line x1="214.10" y1="441.40" x2="222.10" y2="441.40" stroke="#ee3e3e" stroke-width="1.85" />
<line x1="231.30" y1="441.40" x2="239.30" y2="441.40" stroke="#ee3e3e" stroke-width="1.85" />
<path d="M223.00,444.17 L230.40,444.17 L226.70,437.88Z" fill="#ee3e3e"/>
<text x="242.60" y="445.30" font-size="10.9" text-anchor="start" font-weight="bold" fill="#000" >Vac.-CeO<tspan class="sb" dy="2.5">x</tspan><tspan dy="-2.5">/Pt</tspan></text>
<text x="127.60" y="641.40" font-size="15.2" font-weight="bold">Temperature <tspan font-weight="normal">(</tspan><tspan font-weight="normal" dx="1.2" dy="-2">°</tspan><tspan font-weight="normal" dx="-0.9" dy="2">C)</tspan></text>
<text transform="translate(12.8,590.0) rotate(-90)" font-size="15.4" font-weight="bold">Selectivity to methyl formate (%)</text>
<text x="-0.70" y="348.60" font-size="30.5" text-anchor="start" font-weight="bold" fill="#000" >c</text>
<line x1="430.80" y1="573.88" x2="430.80" y2="582.63" stroke="#000" stroke-width="1.6" />
<line x1="502.70" y1="560.23" x2="502.70" y2="567.44" stroke="#000" stroke-width="1.6" />
<line x1="574.60" y1="552.51" x2="574.60" y2="559.20" stroke="#000" stroke-width="1.6" />
<line x1="646.50" y1="556.63" x2="646.50" y2="564.35" stroke="#000" stroke-width="1.6" />
<line x1="430.80" y1="535.00" x2="430.80" y2="554.57" stroke="#000" stroke-width="1.6" />
<line x1="502.70" y1="538.35" x2="502.70" y2="553.28" stroke="#000" stroke-width="1.6" />
<line x1="574.60" y1="525.21" x2="574.60" y2="533.45" stroke="#000" stroke-width="1.6" />
<line x1="646.50" y1="510.54" x2="646.50" y2="520.84" stroke="#000" stroke-width="1.6" />
<line x1="430.80" y1="534.74" x2="430.80" y2="541.95" stroke="#000" stroke-width="1.6" />
<line x1="502.70" y1="523.93" x2="502.70" y2="530.11" stroke="#000" stroke-width="1.6" />
<line x1="574.60" y1="495.34" x2="574.60" y2="508.22" stroke="#000" stroke-width="1.6" />
<line x1="646.50" y1="498.18" x2="646.50" y2="508.99" stroke="#000" stroke-width="1.6" />
<line x1="430.80" y1="513.88" x2="430.80" y2="522.12" stroke="#000" stroke-width="1.6" />
<line x1="502.70" y1="479.12" x2="502.70" y2="488.91" stroke="#000" stroke-width="1.6" />
<line x1="574.60" y1="475.51" x2="574.60" y2="483.75" stroke="#000" stroke-width="1.6" />
<line x1="646.50" y1="458.00" x2="646.50" y2="465.22" stroke="#000" stroke-width="1.6" />
<line x1="430.80" y1="479.63" x2="430.80" y2="502.81" stroke="#000" stroke-width="1.6" />
<line x1="502.70" y1="454.14" x2="502.70" y2="476.29" stroke="#000" stroke-width="1.6" />
<line x1="574.60" y1="443.07" x2="574.60" y2="450.80" stroke="#000" stroke-width="1.6" />
<line x1="646.50" y1="446.68" x2="646.50" y2="453.37" stroke="#000" stroke-width="1.6" />
<path d="M430.80,578.26 L502.70,563.84 L574.60,555.86 L646.50,560.49" fill="none" stroke="#8a8a8a" stroke-width="1.85"/>
<path d="M430.80,544.78 L502.70,545.81 L574.60,529.33 L646.50,515.69" fill="none" stroke="#1c6ade" stroke-width="1.85"/>
<path d="M430.80,538.35 L502.70,527.01 L574.60,501.78 L646.50,503.58" fill="none" stroke="#38aa68" stroke-width="1.85"/>
<path d="M430.80,518.00 L502.70,484.01 L574.60,479.63 L646.50,461.61" fill="none" stroke="#fc9248" stroke-width="1.85"/>
<path d="M430.80,491.22 L502.70,465.22 L574.60,446.93 L646.50,450.02" fill="none" stroke="#ee3e3e" stroke-width="1.85"/>
<path d="M430.80,573.96 L435.10,578.26 L430.80,582.56 L426.50,578.26Z" fill="#8a8a8a"/>
<path d="M502.70,559.54 L507.00,563.84 L502.70,568.14 L498.40,563.84Z" fill="#8a8a8a"/>
<path d="M574.60,551.55 L578.90,555.86 L574.60,560.16 L570.30,555.86Z" fill="#8a8a8a"/>
<path d="M646.50,556.19 L650.80,560.49 L646.50,564.79 L642.20,560.49Z" fill="#8a8a8a"/>
<rect x="427.70" y="541.68" width="6.2" height="6.2" fill="#1c6ade"/>
<rect x="499.60" y="542.71" width="6.2" height="6.2" fill="#1c6ade"/>
<rect x="571.50" y="526.23" width="6.2" height="6.2" fill="#1c6ade"/>
<rect x="643.40" y="512.59" width="6.2" height="6.2" fill="#1c6ade"/>
<path d="M427.10,535.57 L434.50,535.57 L430.80,541.86Z" fill="#38aa68"/>
<path d="M499.00,524.24 L506.40,524.24 L502.70,530.53Z" fill="#38aa68"/>
<path d="M570.90,499.01 L578.30,499.01 L574.60,505.30Z" fill="#38aa68"/>
<path d="M642.80,500.81 L650.20,500.81 L646.50,507.10Z" fill="#38aa68"/>
<circle cx="430.80" cy="518.00" r="3.70" fill="#fc9248"/>
<circle cx="502.70" cy="484.01" r="3.70" fill="#fc9248"/>
<circle cx="574.60" cy="479.63" r="3.70" fill="#fc9248"/>
<circle cx="646.50" cy="461.61" r="3.70" fill="#fc9248"/>
<path d="M427.10,494.00 L434.50,494.00 L430.80,487.71Z" fill="#ee3e3e"/>
<path d="M499.00,467.99 L506.40,467.99 L502.70,461.70Z" fill="#ee3e3e"/>
<path d="M570.90,449.71 L578.30,449.71 L574.60,443.42Z" fill="#ee3e3e"/>
<path d="M642.80,452.80 L650.20,452.80 L646.50,446.51Z" fill="#ee3e3e"/>
<line x1="427.20" y1="573.88" x2="434.40" y2="573.88" stroke="#000" stroke-width="1.6" />
<line x1="427.20" y1="582.63" x2="434.40" y2="582.63" stroke="#000" stroke-width="1.6" />
<line x1="499.10" y1="560.23" x2="506.30" y2="560.23" stroke="#000" stroke-width="1.6" />
<line x1="499.10" y1="567.44" x2="506.30" y2="567.44" stroke="#000" stroke-width="1.6" />
<line x1="571.00" y1="552.51" x2="578.20" y2="552.51" stroke="#000" stroke-width="1.6" />
<line x1="571.00" y1="559.20" x2="578.20" y2="559.20" stroke="#000" stroke-width="1.6" />
<line x1="642.90" y1="556.63" x2="650.10" y2="556.63" stroke="#000" stroke-width="1.6" />
<line x1="642.90" y1="564.35" x2="650.10" y2="564.35" stroke="#000" stroke-width="1.6" />
<line x1="427.20" y1="535.00" x2="434.40" y2="535.00" stroke="#000" stroke-width="1.6" />
<line x1="427.20" y1="554.57" x2="434.40" y2="554.57" stroke="#000" stroke-width="1.6" />
<line x1="499.10" y1="538.35" x2="506.30" y2="538.35" stroke="#000" stroke-width="1.6" />
<line x1="499.10" y1="553.28" x2="506.30" y2="553.28" stroke="#000" stroke-width="1.6" />
<line x1="571.00" y1="525.21" x2="578.20" y2="525.21" stroke="#000" stroke-width="1.6" />
<line x1="571.00" y1="533.45" x2="578.20" y2="533.45" stroke="#000" stroke-width="1.6" />
<line x1="642.90" y1="510.54" x2="650.10" y2="510.54" stroke="#000" stroke-width="1.6" />
<line x1="642.90" y1="520.84" x2="650.10" y2="520.84" stroke="#000" stroke-width="1.6" />
<line x1="427.20" y1="534.74" x2="434.40" y2="534.74" stroke="#000" stroke-width="1.6" />
<line x1="427.20" y1="541.95" x2="434.40" y2="541.95" stroke="#000" stroke-width="1.6" />
<line x1="499.10" y1="523.93" x2="506.30" y2="523.93" stroke="#000" stroke-width="1.6" />
<line x1="499.10" y1="530.11" x2="506.30" y2="530.11" stroke="#000" stroke-width="1.6" />
<line x1="571.00" y1="495.34" x2="578.20" y2="495.34" stroke="#000" stroke-width="1.6" />
<line x1="571.00" y1="508.22" x2="578.20" y2="508.22" stroke="#000" stroke-width="1.6" />
<line x1="642.90" y1="498.18" x2="650.10" y2="498.18" stroke="#000" stroke-width="1.6" />
<line x1="642.90" y1="508.99" x2="650.10" y2="508.99" stroke="#000" stroke-width="1.6" />
<line x1="427.20" y1="513.88" x2="434.40" y2="513.88" stroke="#000" stroke-width="1.6" />
<line x1="427.20" y1="522.12" x2="434.40" y2="522.12" stroke="#000" stroke-width="1.6" />
<line x1="499.10" y1="479.12" x2="506.30" y2="479.12" stroke="#000" stroke-width="1.6" />
<line x1="499.10" y1="488.91" x2="506.30" y2="488.91" stroke="#000" stroke-width="1.6" />
<line x1="571.00" y1="475.51" x2="578.20" y2="475.51" stroke="#000" stroke-width="1.6" />
<line x1="571.00" y1="483.75" x2="578.20" y2="483.75" stroke="#000" stroke-width="1.6" />
<line x1="642.90" y1="458.00" x2="650.10" y2="458.00" stroke="#000" stroke-width="1.6" />
<line x1="642.90" y1="465.22" x2="650.10" y2="465.22" stroke="#000" stroke-width="1.6" />
<line x1="427.20" y1="479.63" x2="434.40" y2="479.63" stroke="#000" stroke-width="1.6" />
<line x1="427.20" y1="502.81" x2="434.40" y2="502.81" stroke="#000" stroke-width="1.6" />
<line x1="499.10" y1="454.14" x2="506.30" y2="454.14" stroke="#000" stroke-width="1.6" />
<line x1="499.10" y1="476.29" x2="506.30" y2="476.29" stroke="#000" stroke-width="1.6" />
<line x1="571.00" y1="443.07" x2="578.20" y2="443.07" stroke="#000" stroke-width="1.6" />
<line x1="571.00" y1="450.80" x2="578.20" y2="450.80" stroke="#000" stroke-width="1.6" />
<line x1="642.90" y1="446.68" x2="650.10" y2="446.68" stroke="#000" stroke-width="1.6" />
<line x1="642.90" y1="453.37" x2="650.10" y2="453.37" stroke="#000" stroke-width="1.6" />
<line x1="395.10" y1="598.60" x2="400.60" y2="598.60" stroke="#000" stroke-width="1.5" />
<line x1="395.10" y1="547.10" x2="400.60" y2="547.10" stroke="#000" stroke-width="1.5" />
<line x1="395.10" y1="495.60" x2="400.60" y2="495.60" stroke="#000" stroke-width="1.5" />
<line x1="395.10" y1="444.10" x2="400.60" y2="444.10" stroke="#000" stroke-width="1.5" />
<line x1="395.10" y1="392.60" x2="400.60" y2="392.60" stroke="#000" stroke-width="1.5" />
<line x1="395.10" y1="572.85" x2="397.70" y2="572.85" stroke="#000" stroke-width="1.5" />
<line x1="395.10" y1="521.35" x2="397.70" y2="521.35" stroke="#000" stroke-width="1.5" />
<line x1="395.10" y1="469.85" x2="397.70" y2="469.85" stroke="#000" stroke-width="1.5" />
<line x1="395.10" y1="418.35" x2="397.70" y2="418.35" stroke="#000" stroke-width="1.5" />
<line x1="430.80" y1="598.60" x2="430.80" y2="595.70" stroke="#000" stroke-width="1.5" />
<line x1="502.70" y1="598.60" x2="502.70" y2="595.70" stroke="#000" stroke-width="1.5" />
<line x1="574.60" y1="598.60" x2="574.60" y2="595.70" stroke="#000" stroke-width="1.5" />
<line x1="646.50" y1="598.60" x2="646.50" y2="595.70" stroke="#000" stroke-width="1.5" />
<line x1="466.75" y1="598.60" x2="466.75" y2="597.20" stroke="#000" stroke-width="1.5" />
<line x1="538.65" y1="598.60" x2="538.65" y2="597.20" stroke="#000" stroke-width="1.5" />
<line x1="610.55" y1="598.60" x2="610.55" y2="597.20" stroke="#000" stroke-width="1.5" />
<rect x="395.1" y="366.9" width="287.5" height="231.70000000000005" fill="none" stroke="#000" stroke-width="1.8"/>
<text transform="translate(389.00,603.60) scale(1,1.1)" font-size="15.2" text-anchor="end" font-weight="bold" fill="#000" >0</text>
<text transform="translate(389.00,552.10) scale(1,1.1)" font-size="15.2" text-anchor="end" font-weight="bold" fill="#000" >2</text>
<text transform="translate(389.00,500.60) scale(1,1.1)" font-size="15.2" text-anchor="end" font-weight="bold" fill="#000" >4</text>
<text transform="translate(389.00,449.10) scale(1,1.1)" font-size="15.2" text-anchor="end" font-weight="bold" fill="#000" >6</text>
<text transform="translate(389.00,397.60) scale(1,1.1)" font-size="15.2" text-anchor="end" font-weight="bold" fill="#000" >8</text>
<text transform="translate(430.80,614.50) scale(1,1.1)" font-size="15.2" text-anchor="middle" font-weight="bold" fill="#000" >50</text>
<text transform="translate(502.70,614.50) scale(1,1.1)" font-size="15.2" text-anchor="middle" font-weight="bold" fill="#000" >60</text>
<text transform="translate(574.60,614.50) scale(1,1.1)" font-size="15.2" text-anchor="middle" font-weight="bold" fill="#000" >70</text>
<text transform="translate(646.50,614.50) scale(1,1.1)" font-size="15.2" text-anchor="middle" font-weight="bold" fill="#000" >80</text>
<line x1="406.10" y1="375.40" x2="431.30" y2="375.40" stroke="#8a8a8a" stroke-width="1.85" />
<path d="M418.70,371.10 L423.00,375.40 L418.70,379.70 L414.40,375.40Z" fill="#8a8a8a"/>
<text x="434.60" y="379.30" font-size="10.9" text-anchor="start" font-weight="bold" fill="#000" >Pt&#160; film</text>
<line x1="406.10" y1="391.50" x2="414.10" y2="391.50" stroke="#1c6ade" stroke-width="1.85" />
<line x1="423.30" y1="391.50" x2="431.30" y2="391.50" stroke="#1c6ade" stroke-width="1.85" />
<rect x="415.60" y="388.40" width="6.2" height="6.2" fill="#1c6ade"/>
<text x="434.60" y="395.40" font-size="10.9" text-anchor="start" font-weight="bold" fill="#000" >Pristine-CeO<tspan class="sb" dy="2.5">x</tspan><tspan dy="-2.5">/Pt</tspan></text>
<line x1="406.10" y1="407.60" x2="414.10" y2="407.60" stroke="#38aa68" stroke-width="1.85" />
<line x1="423.30" y1="407.60" x2="431.30" y2="407.60" stroke="#38aa68" stroke-width="1.85" />
<path d="M415.00,404.82 L422.40,404.82 L418.70,411.11Z" fill="#38aa68"/>
<text x="434.60" y="411.50" font-size="10.9" text-anchor="start" font-weight="bold" fill="#000" >O<tspan class="sb" dy="2.5">2</tspan><tspan dy="-2.5">-CeO</tspan><tspan class="sb" dy="2.5">x</tspan><tspan dy="-2.5">/Pt</tspan></text>
<line x1="406.10" y1="423.70" x2="414.10" y2="423.70" stroke="#fc9248" stroke-width="1.85" />
<line x1="423.30" y1="423.70" x2="431.30" y2="423.70" stroke="#fc9248" stroke-width="1.85" />
<circle cx="418.70" cy="423.70" r="3.70" fill="#fc9248"/>
<text x="434.60" y="427.60" font-size="10.9" text-anchor="start" font-weight="bold" fill="#000" >Ar-CeO<tspan class="sb" dy="2.5">x</tspan><tspan dy="-2.5">/Pt</tspan></text>
<line x1="406.10" y1="439.80" x2="414.10" y2="439.80" stroke="#ee3e3e" stroke-width="1.85" />
<line x1="423.30" y1="439.80" x2="431.30" y2="439.80" stroke="#ee3e3e" stroke-width="1.85" />
<path d="M415.00,442.57 L422.40,442.57 L418.70,436.28Z" fill="#ee3e3e"/>
<text x="434.60" y="443.70" font-size="10.9" text-anchor="start" font-weight="bold" fill="#000" >Vac.-CeO<tspan class="sb" dy="2.5">x</tspan><tspan dy="-2.5">/Pt</tspan></text>
<text x="478.60" y="638.20" font-size="15.2" font-weight="bold">Temperature <tspan font-weight="normal">(</tspan><tspan font-weight="normal" dx="1.2" dy="-2">°</tspan><tspan font-weight="normal" dx="-0.9" dy="2">C)</tspan></text>
<text transform="translate(362.3,572.0) rotate(-90)" font-size="15.35" font-weight="bold">Chemicurrent yield (10<tspan font-size="10" dy="-6">-5</tspan><tspan dy="6">)</tspan></text>
<text x="346.40" y="349.10" font-size="30.5" text-anchor="start" font-weight="bold" fill="#000" >d</text>
</svg></body></html>
